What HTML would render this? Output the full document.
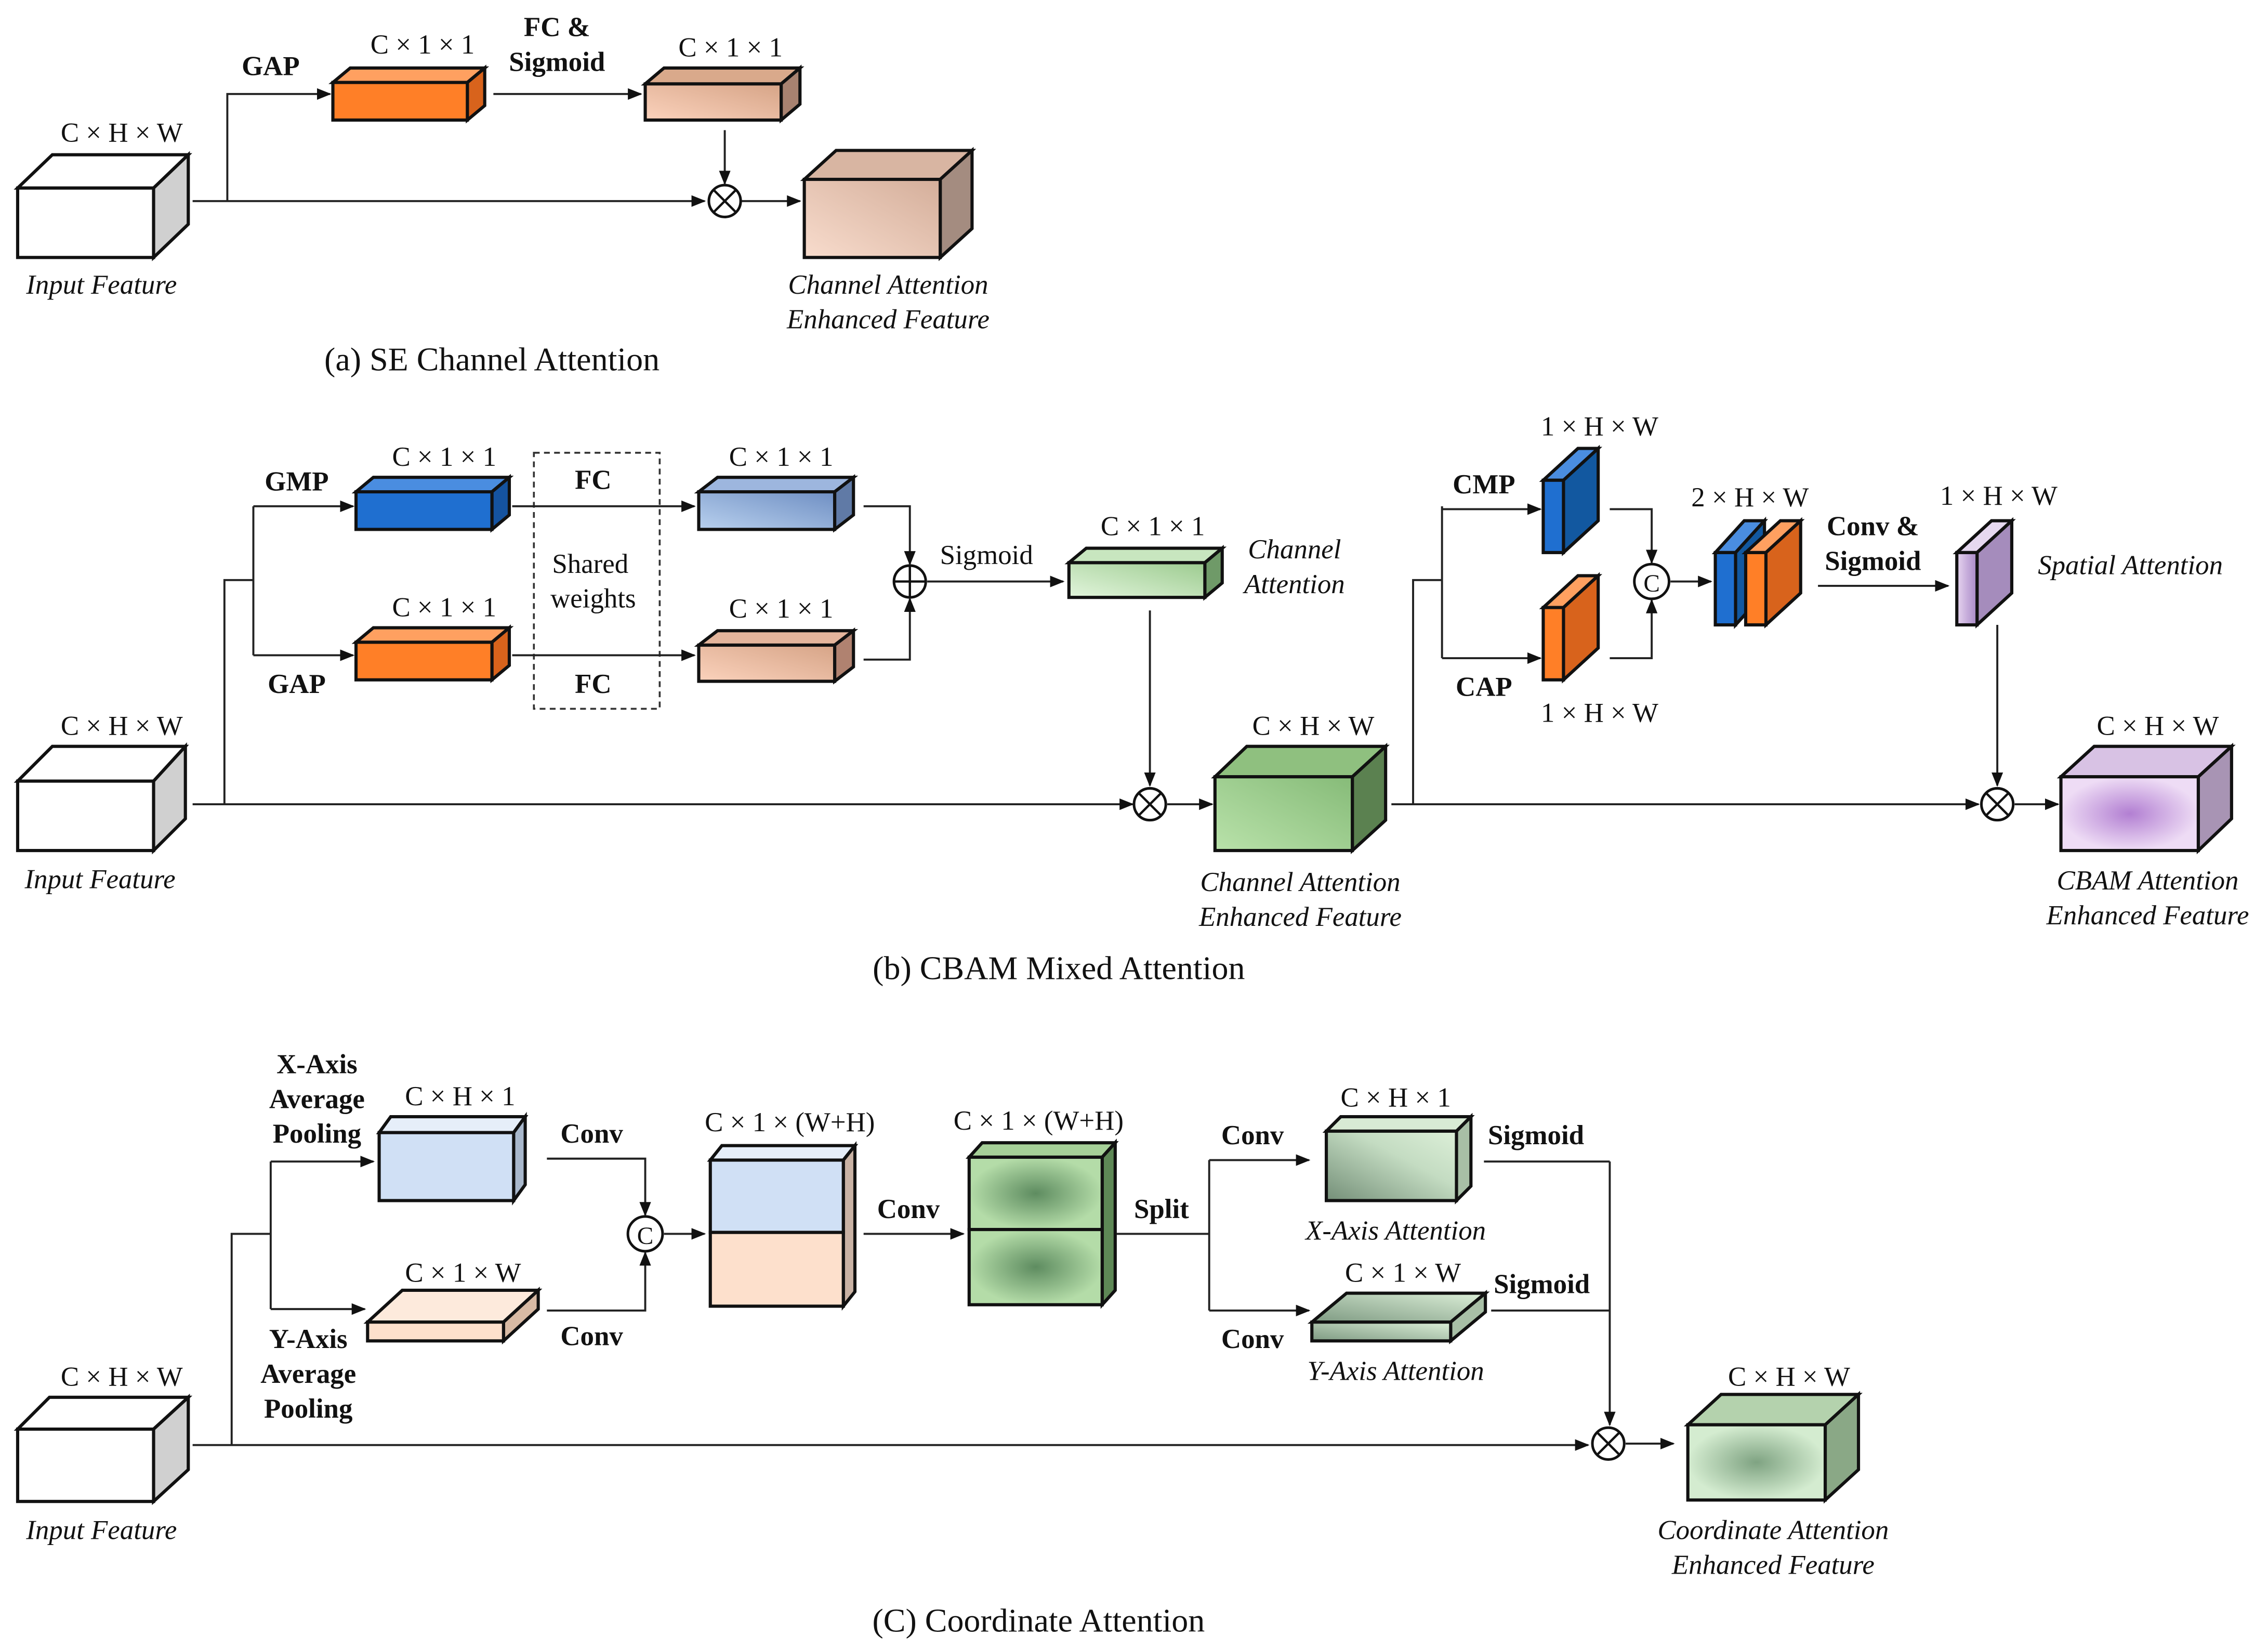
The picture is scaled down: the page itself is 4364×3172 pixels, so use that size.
<!DOCTYPE html>
<html><head><meta charset="utf-8"><style>
html,body{margin:0;padding:0;background:#fff;}
svg{display:block;}
text{font-family:"Liberation Serif",serif;fill:#111;}
.l{font-size:19px;text-anchor:middle;}
.b{font-size:19px;font-weight:bold;text-anchor:middle;}
.i{font-size:19px;font-style:italic;text-anchor:middle;}
.t{font-size:23px;text-anchor:middle;}
.ln{stroke:#222;stroke-width:1.4;fill:none;}
.bx{stroke:#111;stroke-width:2.2;stroke-linejoin:miter;}
</style></head><body>
<svg width="4364" height="3172" viewBox="0 0 1568 1140" xmlns="http://www.w3.org/2000/svg">
<defs>
<marker id="a" markerWidth="10" markerHeight="8" refX="9" refY="4" orient="auto" markerUnits="userSpaceOnUse"><path d="M0,0 L10,4 L0,8 z" fill="#111"/></marker>
<linearGradient id="pk" x1="0" y1="1" x2="1" y2="0"><stop offset="0" stop-color="#fbd2bc"/><stop offset="1" stop-color="#d6a487"/></linearGradient>
<linearGradient id="pkc" x1="0" y1="1" x2="1" y2="0"><stop offset="0" stop-color="#f8dccd"/><stop offset="1" stop-color="#d4ae9a"/></linearGradient>
<linearGradient id="bg" x1="0" y1="1" x2="1" y2="0"><stop offset="0" stop-color="#b8d0ee"/><stop offset="1" stop-color="#6f8fc3"/></linearGradient>
<linearGradient id="gr" x1="0" y1="1" x2="1" y2="0"><stop offset="0" stop-color="#e2f5dc"/><stop offset="1" stop-color="#9ccb8f"/></linearGradient>
<linearGradient id="grc" x1="0" y1="1" x2="1" y2="0"><stop offset="0" stop-color="#b9e2aa"/><stop offset="1" stop-color="#86bb78"/></linearGradient>
<radialGradient id="pu"><stop offset="0" stop-color="#b27fd2"/><stop offset="1" stop-color="#eedcf5"/></radialGradient>
<linearGradient id="pul" x1="0" y1="0" x2="1" y2="0"><stop offset="0" stop-color="#e6d4f0"/><stop offset="1" stop-color="#a888c6"/></linearGradient>
<radialGradient id="gd"><stop offset="0" stop-color="#5e8c60"/><stop offset="1" stop-color="#b4dca8"/></radialGradient>
<radialGradient id="gc"><stop offset="0" stop-color="#7fa382"/><stop offset="1" stop-color="#d4ecd0"/></radialGradient>
<linearGradient id="xa" x1="0" y1="1" x2="1" y2="0"><stop offset="0" stop-color="#748f78"/><stop offset="0.6" stop-color="#c4dcc2"/><stop offset="1" stop-color="#dcefd8"/></linearGradient>
<linearGradient id="ya" x1="0" y1="1" x2="1" y2="0"><stop offset="0" stop-color="#7e9a82"/><stop offset="1" stop-color="#dcefd8"/></linearGradient>
</defs>

<!-- ===== (a) ===== -->
<g class="bx">
<polygon points="12,130 36,107 130,107 106,130" fill="#fff"/><polygon points="106,130 130,107 130,155 106,178" fill="#d0d0d0"/><rect x="12" y="130" width="94" height="48" fill="#fff"/>
<polygon points="230,57 242,47 335,47 323,57" fill="#ffa060"/><polygon points="323,57 335,47 335,73 323,83" fill="#d8631c"/><rect x="230" y="57" width="93" height="26" fill="#ff7f27"/>
<polygon points="446,58 459,47 553,47 540,58" fill="#d9a98b"/><polygon points="540,58 553,47 553,72 540,83" fill="#a88270"/><rect x="446" y="58" width="94" height="25" fill="url(#pk)"/>
<polygon points="556,124 578,104 672,104 650,124" fill="#d8b5a2"/><polygon points="650,124 672,104 672,158 650,178" fill="#a48c80"/><rect x="556" y="124" width="94" height="54" fill="url(#pkc)"/>
</g>
<path class="ln" d="M133,139 H487" marker-end="url(#a)"/>
<path class="ln" d="M512,139 H553" marker-end="url(#a)"/>
<path class="ln" d="M157,139 V65 H228" marker-end="url(#a)"/>
<path class="ln" d="M341,65 H443" marker-end="url(#a)"/>
<path class="ln" d="M501,90 V127" marker-end="url(#a)"/>
<circle cx="501" cy="139" r="11" fill="#fff" stroke="#111" stroke-width="1.8"/><path d="M493,131 L509,147 M509,131 L493,147" stroke="#111" stroke-width="1.6"/>
<text class="l" x="84" y="98">C × H × W</text>
<text class="i" x="70" y="203">Input Feature</text>
<text class="b" x="187" y="52">GAP</text>
<text class="l" x="292" y="37">C × 1 × 1</text>
<text class="b" x="385" y="25">FC &amp;</text>
<text class="b" x="385" y="49">Sigmoid</text>
<text class="l" x="505" y="39">C × 1 × 1</text>
<text class="i" x="614" y="203">Channel Attention</text>
<text class="i" x="614" y="227">Enhanced Feature</text>
<text class="t" x="340" y="256">(a) SE Channel Attention</text>

<!-- ===== (b) ===== -->
<g class="bx">
<polygon points="12,540 36,516 128,516 106,540" fill="#fff"/><polygon points="106,540 128,516 128,566 106,588" fill="#d0d0d0"/><rect x="12" y="540" width="94" height="48" fill="#fff"/>
<polygon points="246,340 258,330 352,330 340,340" fill="#4a8de0"/><polygon points="340,340 352,330 352,356 340,366" fill="#1553a0"/><rect x="246" y="340" width="94" height="26" fill="#1f6fd0"/>
<polygon points="246,444 258,434 352,434 340,444" fill="#ffa060"/><polygon points="340,444 352,434 352,460 340,470" fill="#d8631c"/><rect x="246" y="444" width="94" height="26" fill="#ff7f27"/>
<polygon points="483,340 496,330 590,330 577,340" fill="#9db6de"/><polygon points="577,340 590,330 590,356 577,366" fill="#607aa6"/><rect x="483" y="340" width="94" height="26" fill="url(#bg)"/>
<polygon points="483,446 496,436 590,436 577,446" fill="#e4b59c"/><polygon points="577,446 590,436 590,461 577,471" fill="#b08270"/><rect x="483" y="446" width="94" height="25" fill="url(#pk)"/>
<polygon points="739,389 751,379 845,379 833,389" fill="#c8e6bf"/><polygon points="833,389 845,379 845,403 833,413" fill="#6f9a68"/><rect x="739" y="389" width="94" height="24" fill="url(#gr)"/>
<polygon points="840,537 862,516 958,516 935,537" fill="#8fc07f"/><polygon points="935,537 958,516 958,567 935,588" fill="#5b8150"/><rect x="840" y="537" width="95" height="51" fill="url(#grc)"/>
<polygon points="1067,332 1091,310 1105,310 1081,332" fill="#4a8de0"/><polygon points="1081,332 1105,310 1105,360 1081,382" fill="#1258a0"/><rect x="1067" y="332" width="14" height="50" fill="#1f6fd0"/>
<polygon points="1067,420 1091,398 1105,398 1081,420" fill="#ffa060"/><polygon points="1081,420 1105,398 1105,448 1081,470" fill="#d8631c"/><rect x="1067" y="420" width="14" height="50" fill="#ff7f27"/>
<polygon points="1186,382 1206,360 1220,360 1200,382" fill="#4a8de0"/><polygon points="1200,382 1220,360 1220,410 1200,432" fill="#1258a0"/><rect x="1186" y="382" width="14" height="50" fill="#1f6fd0"/>
<polygon points="1207,382 1231,360 1245,360 1221,382" fill="#ffa060"/><polygon points="1221,382 1245,360 1245,410 1221,432" fill="#d8631c"/><rect x="1207" y="382" width="14" height="50" fill="#ff7f27"/>
<polygon points="1353,382 1377,360 1391,360 1367,382" fill="#e6d8f0"/><polygon points="1367,382 1391,360 1391,410 1367,432" fill="#a58cbc"/><rect x="1353" y="382" width="14" height="50" fill="url(#pul)"/>
<polygon points="1425,537 1448,516 1543,516 1520,537" fill="#d8c2e4"/><polygon points="1520,537 1543,516 1543,566 1520,588" fill="#a894b4"/><rect x="1425" y="537" width="95" height="51" fill="url(#pu)"/>
</g>
<rect x="369" y="313" width="87" height="177" fill="none" stroke="#333" stroke-width="1.3" stroke-dasharray="4,3"/>
<path class="ln" d="M133,556 H783" marker-end="url(#a)"/>
<path class="ln" d="M807,556 H838" marker-end="url(#a)"/>
<path class="ln" d="M155,556 V401 H175"/>
<path class="ln" d="M175,350 V453"/>
<path class="ln" d="M175,350 H244" marker-end="url(#a)"/>
<path class="ln" d="M175,453 H244" marker-end="url(#a)"/>
<path class="ln" d="M354,350 H480" marker-end="url(#a)"/>
<path class="ln" d="M354,453 H480" marker-end="url(#a)"/>
<path class="ln" d="M597,350 H629 V390" marker-end="url(#a)"/>
<path class="ln" d="M597,456 H629 V414" marker-end="url(#a)"/>
<path class="ln" d="M641,402 H735" marker-end="url(#a)"/>
<path class="ln" d="M795,422 V543" marker-end="url(#a)"/>
<circle cx="629" cy="402" r="11" fill="#fff" stroke="#111" stroke-width="1.8"/><path d="M618,402 H640 M629,391 V413" stroke="#111" stroke-width="1.6"/>
<circle cx="795" cy="556" r="11" fill="#fff" stroke="#111" stroke-width="1.8"/><path d="M787,548 L803,564 M803,548 L787,564" stroke="#111" stroke-width="1.6"/>
<path class="ln" d="M962,556 H1368" marker-end="url(#a)"/>
<path class="ln" d="M1393,556 H1423" marker-end="url(#a)"/>
<path class="ln" d="M977,556 V401 H997"/>
<path class="ln" d="M997,350 V455"/>
<path class="ln" d="M997,352 H1065" marker-end="url(#a)"/>
<path class="ln" d="M997,455 H1065" marker-end="url(#a)"/>
<path class="ln" d="M1113,352 H1142 V389" marker-end="url(#a)"/>
<path class="ln" d="M1113,455 H1142 V415" marker-end="url(#a)"/>
<path class="ln" d="M1155,402 H1183" marker-end="url(#a)"/>
<path class="ln" d="M1257,405 H1347" marker-end="url(#a)"/>
<path class="ln" d="M1381,432 V543" marker-end="url(#a)"/>
<circle cx="1142" cy="402" r="12" fill="#fff" stroke="#111" stroke-width="1.8"/><text class="l" x="1142" y="409" style="font-size:17px">C</text>
<circle cx="1381" cy="556" r="11" fill="#fff" stroke="#111" stroke-width="1.8"/><path d="M1373,548 L1389,564 M1389,548 L1373,564" stroke="#111" stroke-width="1.6"/>
<text class="l" x="84" y="508">C × H × W</text>
<text class="i" x="69" y="614">Input Feature</text>
<text class="b" x="205" y="339">GMP</text>
<text class="b" x="205" y="479">GAP</text>
<text class="l" x="307" y="322">C × 1 × 1</text>
<text class="l" x="307" y="426">C × 1 × 1</text>
<text class="b" x="410" y="338">FC</text>
<text class="l" x="408" y="396">Shared</text>
<text class="l" x="410" y="420">weights</text>
<text class="b" x="410" y="479">FC</text>
<text class="l" x="540" y="322">C × 1 × 1</text>
<text class="l" x="540" y="427">C × 1 × 1</text>
<text class="l" x="682" y="390">Sigmoid</text>
<text class="l" x="797" y="370">C × 1 × 1</text>
<text class="i" x="895" y="386">Channel</text>
<text class="i" x="895" y="410">Attention</text>
<text class="l" x="908" y="508">C × H × W</text>
<text class="i" x="899" y="616">Channel Attention</text>
<text class="i" x="899" y="640">Enhanced Feature</text>
<text class="b" x="1026" y="341">CMP</text>
<text class="b" x="1026" y="481">CAP</text>
<text class="l" x="1106" y="301">1 × H × W</text>
<text class="l" x="1106" y="499">1 × H × W</text>
<text class="l" x="1210" y="350">2 × H × W</text>
<text class="b" x="1295" y="370">Conv &amp;</text>
<text class="b" x="1295" y="394">Sigmoid</text>
<text class="l" x="1382" y="349">1 × H × W</text>
<text class="i" x="1473" y="397">Spatial Attention</text>
<text class="l" x="1492" y="508">C × H × W</text>
<text class="i" x="1485" y="615">CBAM Attention</text>
<text class="i" x="1485" y="639">Enhanced Feature</text>
<text class="t" x="732" y="677">(b) CBAM Mixed Attention</text>

<!-- ===== (c) ===== -->
<g class="bx">
<polygon points="12,988 34,966 130,966 106,988" fill="#fff"/><polygon points="106,988 130,966 130,1016 106,1038" fill="#d0d0d0"/><rect x="12" y="988" width="94" height="50" fill="#fff"/>
<polygon points="262,783 270,772 363,772 355,783" fill="#e6eef9"/><polygon points="355,783 363,772 363,819 355,830" fill="#a9b8cc"/><rect x="262" y="783" width="93" height="47" fill="#d0e0f5"/>
<polygon points="254,914 278,892 372,892 348,914" fill="#fdeadc"/><polygon points="348,914 372,892 372,905 348,927" fill="#d8baa4"/><rect x="254" y="914" width="94" height="13" fill="#fde0cc"/>
<polygon points="491,802 499,792 591,792 583,802" fill="#e6eef9"/><polygon points="583,802 591,792 591,893 583,903" fill="#c9b2a4"/><rect x="491" y="802" width="92" height="50" fill="#d0e0f5"/><rect x="491" y="852" width="92" height="51" fill="#fde0cc"/>
<polygon points="670,800 679,790 771,790 762,800" fill="#a6d098"/><polygon points="762,800 771,790 771,892 762,902" fill="#5e8856"/><rect x="670" y="800" width="92" height="50" fill="url(#gd)"/><rect x="670" y="850" width="92" height="52" fill="url(#gd)"/>
<polygon points="917,782 927,772 1017,772 1007,782" fill="#d8ead4"/><polygon points="1007,782 1017,772 1017,820 1007,830" fill="#a8bfa6"/><rect x="917" y="782" width="90" height="48" fill="url(#xa)"/>
<polygon points="907,914 931,894 1027,894 1003,914" fill="url(#ya)"/><polygon points="1003,914 1027,894 1027,907 1003,927" fill="#a8bfa6"/><rect x="907" y="914" width="96" height="13" fill="url(#ya)"/>
<polygon points="1167,985 1190,964 1285,964 1262,985" fill="#b4d2ad"/><polygon points="1262,985 1285,964 1285,1016 1262,1037" fill="#8aa886"/><rect x="1167" y="985" width="95" height="52" fill="url(#gc)"/>
</g>
<path class="ln" d="M133,999 H1098" marker-end="url(#a)"/>
<path class="ln" d="M1124,998 H1157" marker-end="url(#a)"/>
<path class="ln" d="M160,999 V853 H187"/>
<path class="ln" d="M187,803 V905"/>
<path class="ln" d="M187,803 H258" marker-end="url(#a)"/>
<path class="ln" d="M187,905 H252" marker-end="url(#a)"/>
<path class="ln" d="M378,801 H446 V840" marker-end="url(#a)"/>
<path class="ln" d="M378,906 H446 V866" marker-end="url(#a)"/>
<path class="ln" d="M459,853 H487" marker-end="url(#a)"/>
<path class="ln" d="M597,853 H666" marker-end="url(#a)"/>
<path class="ln" d="M772,853 H836"/>
<path class="ln" d="M836,802 V906"/>
<path class="ln" d="M836,802 H905" marker-end="url(#a)"/>
<path class="ln" d="M836,906 H905" marker-end="url(#a)"/>
<path class="ln" d="M1026,803 H1113 M1031,906 H1113"/>
<path class="ln" d="M1113,803 V985" marker-end="url(#a)"/>
<circle cx="446" cy="853" r="12" fill="#fff" stroke="#111" stroke-width="1.8"/><text class="l" x="446" y="860" style="font-size:17px">C</text>
<circle cx="1112" cy="998" r="11" fill="#fff" stroke="#111" stroke-width="1.8"/><path d="M1104,990 L1120,1006 M1120,990 L1104,1006" stroke="#111" stroke-width="1.6"/>
<text class="l" x="84" y="958">C × H × W</text>
<text class="i" x="70" y="1064">Input Feature</text>
<text class="b" x="219" y="742">X-Axis</text>
<text class="b" x="219" y="766">Average</text>
<text class="b" x="219" y="790">Pooling</text>
<text class="l" x="318" y="764">C × H × 1</text>
<text class="b" x="213" y="932">Y-Axis</text>
<text class="b" x="213" y="956">Average</text>
<text class="b" x="213" y="980">Pooling</text>
<text class="l" x="320" y="886">C × 1 × W</text>
<text class="b" x="409" y="790">Conv</text>
<text class="b" x="409" y="930">Conv</text>
<text class="l" x="546" y="782">C × 1 × (W+H)</text>
<text class="b" x="628" y="842">Conv</text>
<text class="l" x="718" y="781">C × 1 × (W+H)</text>
<text class="b" x="803" y="842">Split</text>
<text class="b" x="866" y="791">Conv</text>
<text class="b" x="866" y="932">Conv</text>
<text class="l" x="965" y="765">C × H × 1</text>
<text class="i" x="965" y="857">X-Axis Attention</text>
<text class="l" x="970" y="886">C × 1 × W</text>
<text class="i" x="965" y="954">Y-Axis Attention</text>
<text class="b" x="1062" y="791">Sigmoid</text>
<text class="b" x="1066" y="894">Sigmoid</text>
<text class="l" x="1237" y="958">C × H × W</text>
<text class="i" x="1226" y="1064">Coordinate Attention</text>
<text class="i" x="1226" y="1088">Enhanced Feature</text>
<text class="t" x="718" y="1128">(C) Coordinate Attention</text>
</svg>
</body></html>
